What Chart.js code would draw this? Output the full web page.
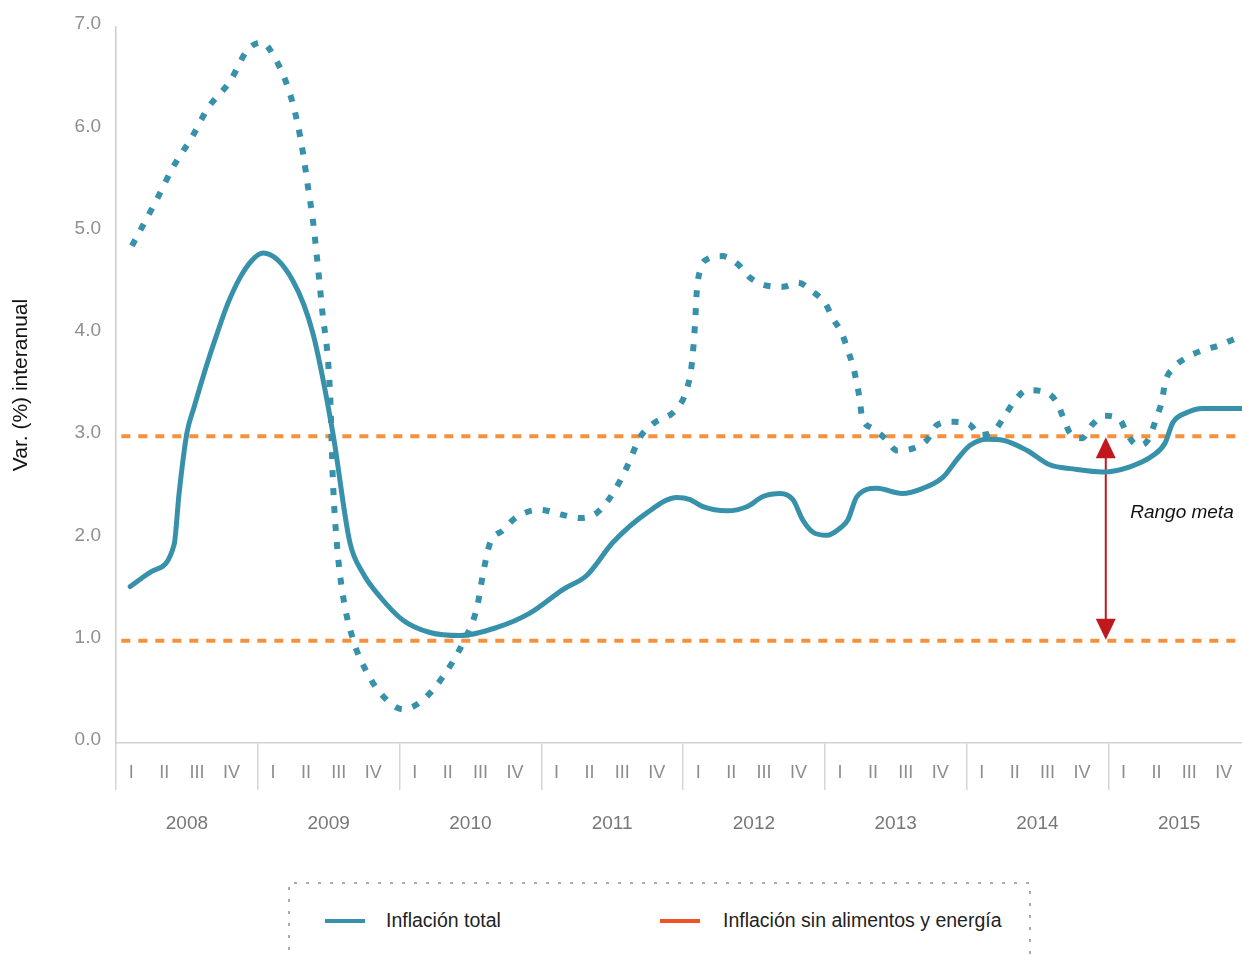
<!DOCTYPE html>
<html>
<head>
<meta charset="utf-8">
<script src="https://cdn.jsdelivr.net/npm/chart.js@4.4.1/dist/chart.umd.min.js"></script>
<style>
	body { margin: 0; overflow: hidden; background: #fff; font-family: "Liberation Sans", Arial, sans-serif; }
	#wrap { position: relative; width: 1242px; height: 955px; overflow: hidden; }
	#grafico { position: absolute; left: 0; top: 0; }
	#leyenda { position: absolute; left: 288px; top: 882px; width: 744px; height: 80px; }
	#leyenda svg { position: absolute; left: 0; top: 0; }
	.item { position: absolute; top: 27px; font-size: 19.5px; color: #222; white-space: nowrap; }
	.muestra { position: absolute; top: 37px; width: 40px; height: 4px; }
</style>
</head>
<body>
<div id="wrap">
	<canvas id="grafico" width="1250" height="880"></canvas>
	<div id="leyenda">
		<svg width="744" height="80"><path d="M1 80 L1 1 L742 1 L742 80" fill="none" stroke="#aaaaaa" stroke-width="2" stroke-dasharray="3 9"/></svg>
		<div class="muestra" style="left:37px;background:#3891aa"></div>
		<div class="item" style="left:98px">Inflación total</div>
		<div class="muestra" style="left:372px;background:#ef5323"></div>
		<div class="item" style="left:435px">Inflación sin alimentos y energía</div>
	</div>
</div>
<script>
	// Datos (posicion en trimestres desde 2008-I, valor en %)
	const trimestres = ['I', 'II', 'III', 'IV'];
	const anios = ['2008', '2009', '2010', '2011', '2012', '2013', '2014', '2015'];

	const totalT = [0.40, 1.02, 1.64, 1.78, 2.00, 2.20, 2.37, 2.60, 2.85, 3.16, 3.50, 3.84, 4.15, 4.99, 5.56, 6.12,
		6.60, 6.97, 7.45, 8.10, 8.86, 9.71, 10.75, 11.68, 12.61, 13.29, 14.02, 14.98, 15.83, 16.20, 16.56, 17.24,
		17.80, 18.26, 18.74, 19.10, 19.38, 19.67, 20.06, 20.43, 20.65, 20.91, 21.47, 22.18, 22.77, 23.34, 23.73, 24.10,
		24.58, 25.03, 25.71, 26.35, 27.00, 27.85, 28.61, 29.26, 29.60, 29.82, 30.22, 30.67, 32.00];
	const totalV = [1.53, 1.68, 1.94, 2.44, 3.03, 3.28, 3.48, 3.74, 4.00, 4.30, 4.55, 4.72, 4.79, 4.52, 4.00, 3.03,
		1.96, 1.66, 1.43, 1.20, 1.08, 1.05, 1.13, 1.27, 1.50, 1.64, 1.96, 2.25, 2.40, 2.38, 2.31, 2.27,
		2.31, 2.41, 2.44, 2.38, 2.18, 2.06, 2.03, 2.10, 2.18, 2.41, 2.49, 2.44, 2.49, 2.60, 2.77, 2.91,
		2.97, 2.96, 2.86, 2.72, 2.68, 2.65, 2.70, 2.81, 2.93, 3.13, 3.23, 3.27, 3.27];

	const subT = [0.45, 1.16, 1.61, 2.14, 2.60, 3.22, 3.70, 4.12, 4.43, 4.85, 5.11, 5.28, 5.42, 5.56, 5.67, 5.81,
		6.04, 6.12, 6.24, 6.41, 6.69, 7.08, 7.53, 8.10, 8.66, 9.23, 9.79, 10.19, 10.36, 10.55, 10.92, 11.31,
		11.96, 12.61, 13.09, 13.57, 14.02, 14.42, 14.79, 15.15, 15.83, 16.11, 16.25, 16.34, 16.39, 16.48, 16.68, 17.10,
		17.55, 17.89, 18.37, 18.82, 19.24, 19.67, 20.01, 20.23, 20.49, 20.65, 20.80, 20.91, 20.99, 21.05, 21.33, 21.70,
		22.04, 22.49, 22.88, 23.17, 23.62, 24.10, 24.38, 24.80, 25.08, 25.37, 25.71, 26.13, 26.55, 26.72, 26.92, 27.26,
		27.54, 27.91, 28.33, 28.55, 28.84, 29.12, 29.37, 29.52, 29.60, 29.82, 30.22, 30.67, 31.15, 31.63, 32.00];
	const subV = [4.86, 5.32, 5.63, 5.92, 6.21, 6.47, 6.77, 6.85, 6.73, 6.41, 6.08, 5.76, 5.43, 5.10, 4.75, 4.26,
		3.42, 2.57, 1.92, 1.43, 1.01, 0.69, 0.46, 0.33, 0.42, 0.65, 0.98, 1.33, 1.66, 1.95, 2.08, 2.21,
		2.28, 2.23, 2.20, 2.25, 2.44, 2.70, 2.99, 3.12, 3.27, 3.46, 3.71, 4.10, 4.42, 4.62, 4.73, 4.76,
		4.68, 4.55, 4.47, 4.46, 4.50, 4.41, 4.30, 4.15, 4.00, 3.84, 3.68, 3.51, 3.35, 3.19, 3.08, 2.98,
		2.86, 2.88, 2.96, 3.11, 3.14, 3.11, 3.01, 3.06, 3.20, 3.35, 3.45, 3.44, 3.33, 3.19, 3.03, 2.98,
		3.11, 3.20, 3.16, 3.01, 2.91, 2.96, 3.19, 3.35, 3.52, 3.66, 3.77, 3.84, 3.89, 3.96, 4.00];

	const metaMin = 1.0;
	const metaMax = 3.0;
	const flechaT = 27.93;
	const rotulo = { texto: 'Rango meta', t: 30.08, v: 2.25 };

	const teal = '#3891aa';
	const naranja = '#f5913b';

	function puntos(xs, ys) {
		var out = [];
		for (var i = 0; i < xs.length; i++) out.push({ x: xs[i], y: ys[i] });
		return out;
	}

	var etiquetasQ = [];
	for (var a = 0; a < anios.length; a++) etiquetasQ = etiquetasQ.concat(trimestres);

	// flecha roja del rango meta
	const flecha = {
		id: 'flecha',
		beforeDatasetsDraw: function(chart) {
			var ctx = chart.ctx;
			var x = chart.scales.x.getPixelForValue(flechaT);
			var yA = chart.scales.y.getPixelForValue(metaMax);
			var yB = chart.scales.y.getPixelForValue(metaMin);
			ctx.save();
			ctx.strokeStyle = '#c1181d';
			ctx.fillStyle = '#c1181d';
			ctx.lineWidth = 2;
			ctx.beginPath();
			ctx.moveTo(x, yA + 18);
			ctx.lineTo(x, yB - 18);
			ctx.stroke();
			ctx.beginPath();
			ctx.moveTo(x, yA + 1);
			ctx.lineTo(x - 10, yA + 22);
			ctx.lineTo(x + 10, yA + 22);
			ctx.closePath();
			ctx.fill();
			ctx.beginPath();
			ctx.moveTo(x, yB - 1);
			ctx.lineTo(x - 10, yB - 22);
			ctx.lineTo(x + 10, yB - 22);
			ctx.closePath();
			ctx.fill();
			ctx.font = 'italic 19px "Liberation Sans", Arial, sans-serif';
			ctx.fillStyle = '#111';
			ctx.textAlign = 'center';
			ctx.textBaseline = 'middle';
			ctx.fillText(rotulo.texto, chart.scales.x.getPixelForValue(rotulo.t), chart.scales.y.getPixelForValue(rotulo.v));
			ctx.restore();
		}
	};

	Chart.defaults.font.family = '"Liberation Sans", Arial, sans-serif';

	new Chart(document.getElementById('grafico'), {
		type: 'line',
		data: {
			datasets: [
				{
					label: 'Inflación total',
					data: puntos(totalT, totalV),
					borderColor: teal,
					borderWidth: 5,
					pointRadius: 0,
					cubicInterpolationMode: 'monotone',
					borderJoinStyle: 'round',
					borderCapStyle: 'round'
				},
				{
					label: 'Inflación sin alimentos y energía',
					data: puntos(subT, subV),
					borderColor: teal,
					borderWidth: 6,
					borderDash: [7, 11],
					pointRadius: 0,
					cubicInterpolationMode: 'monotone'
				},
				{
					label: 'meta sup',
					data: [{ x: 0.15, y: metaMax }, { x: 32, y: metaMax }],
					borderColor: naranja,
					borderWidth: 4,
					borderDash: [9, 8],
					pointRadius: 0
				},
				{
					label: 'meta inf',
					data: [{ x: 0.15, y: metaMin }, { x: 32, y: metaMin }],
					borderColor: naranja,
					borderWidth: 4,
					borderDash: [9, 8],
					pointRadius: 0
				}
			]
		},
		options: {
			responsive: false,
			animation: false,
			layout: { padding: { top: 27, left: 0, right: 0, bottom: 37 } },
			plugins: {
				legend: { display: false },
				tooltip: { enabled: false }
			},
			scales: {
				x: {
					type: 'linear',
					min: 0,
					max: 32,
					display: false
				},
				q: {
					type: 'category',
					position: 'bottom',
					labels: etiquetasQ,
					offset: true,
					border: { display: true, color: '#d2d2d2', width: 1.5 },
					grid: {
						display: true,
						drawOnChartArea: false,
						drawTicks: true,
						tickLength: 47,
						offset: true,
						lineWidth: 1.5,
						color: function(c) { return c.index % 4 === 0 ? '#d5d5d5' : 'rgba(0,0,0,0)'; },
						tickColor: function(c) { return c.index % 4 === 0 ? '#d5d5d5' : 'rgba(0,0,0,0)'; }
					},
					ticks: {
						autoSkip: false,
						maxRotation: 0,
						align: 'end',
						padding: -28,
						color: '#8c8c8c',
						font: { size: 18 }
					},
					afterFit: function(s) { s.height = 40; }
				},
				yr: {
					type: 'category',
					position: 'bottom',
					labels: anios,
					offset: true,
					border: { display: false },
					grid: { display: false, drawTicks: false },
					ticks: {
						padding: 29,
						maxRotation: 0,
						color: '#777',
						font: { size: 19 }
					},
					afterFit: function(s) { s.height = 60; }
				},
				y: {
					min: 0,
					max: 7,
					border: { display: true, color: '#c9ced3', width: 1.5 },
					grid: { display: false, drawTicks: false },
					ticks: {
						stepSize: 1,
						padding: 15,
						labelOffset: -3,
						color: '#8f8f8f',
						font: { size: 19 },
						callback: function(v) { return v.toFixed(1); }
					},
					title: {
						display: true,
						text: 'Var. (%) interanual',
						color: '#111',
						font: { size: 21 },
						padding: { top: 9, bottom: 0 }
					},
					afterFit: function(s) { s.width = 116; }
				}
			}
		},
		plugins: [flecha]
	});
</script>
</body>
</html>
